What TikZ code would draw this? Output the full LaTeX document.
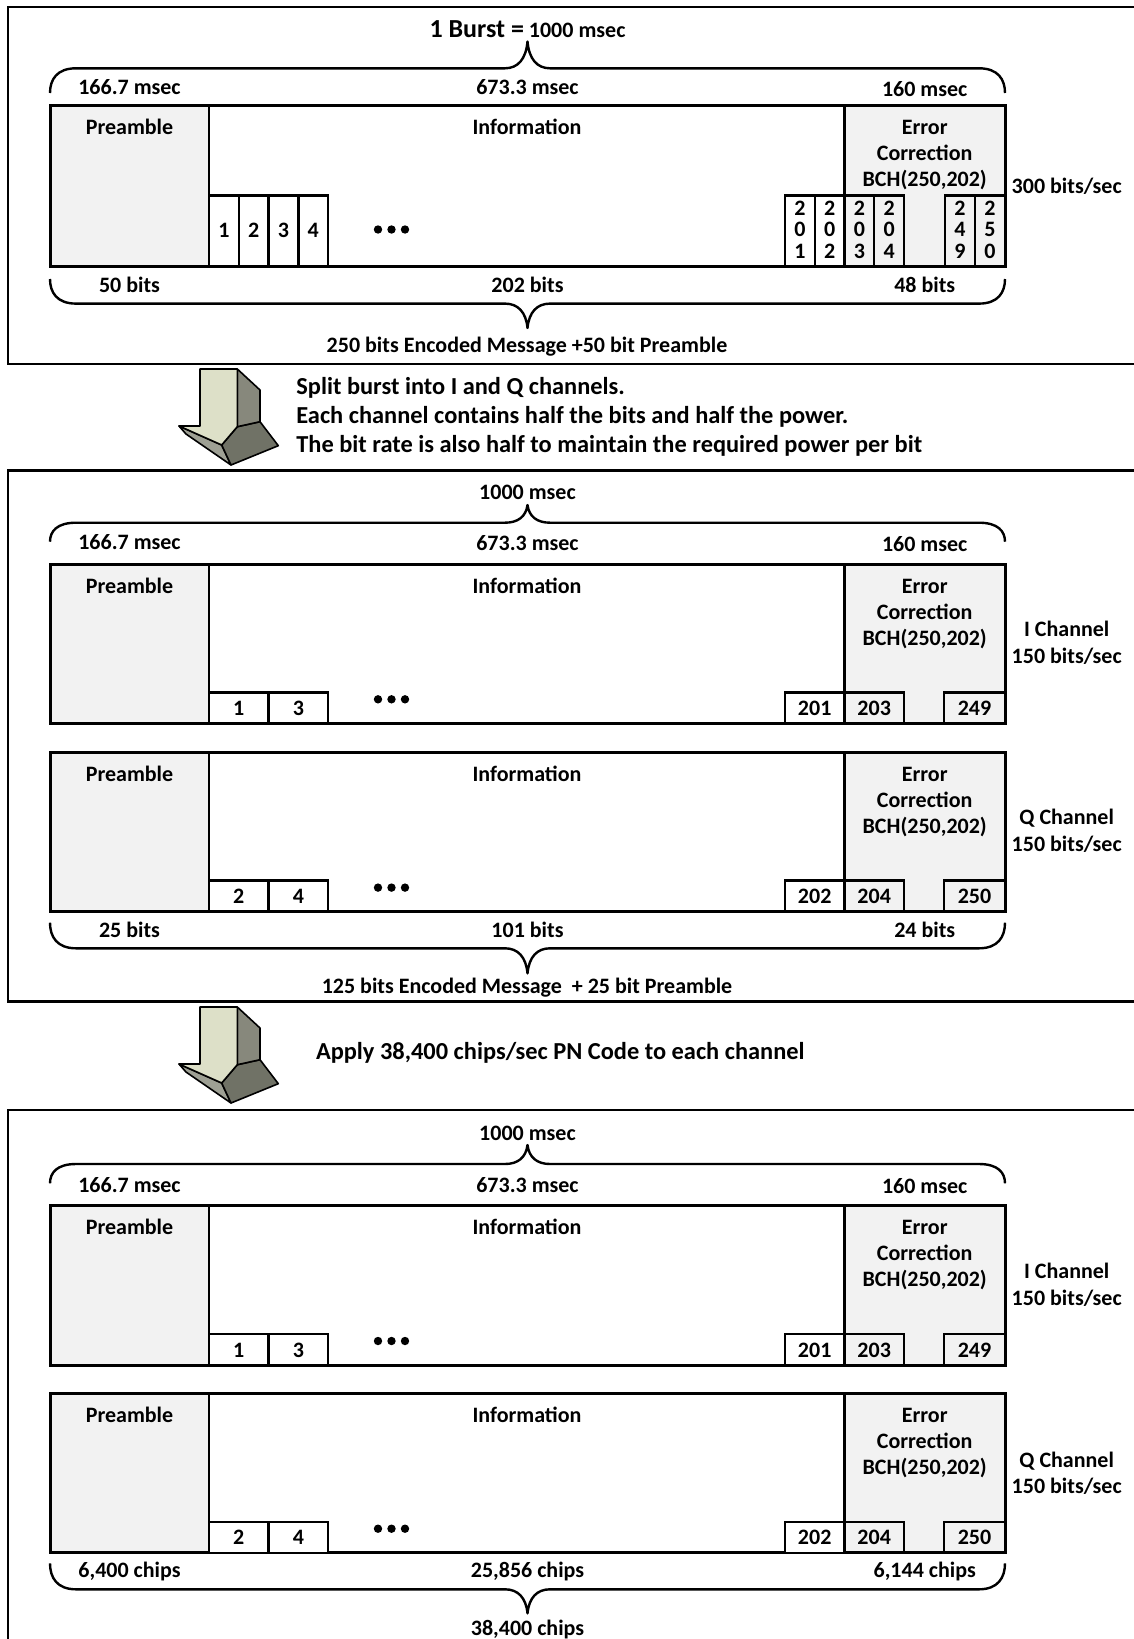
\documentclass[tikz,border=0pt]{standalone}
\usepackage{fontspec}
\setmainfont{Carlito}
\definecolor{panelgray}{RGB}{242,242,242}
\definecolor{arrfront}{RGB}{221,224,200}
\definecolor{arrside}{RGB}{135,136,124}
\definecolor{arrdark}{RGB}{112,114,102}
\definecolor{arrlow}{RGB}{158,160,148}
\tikzset{
  lbl/.style={font=\bfseries\fontsize{11}{13}\selectfont, inner sep=0pt, anchor=base},
  vlbl/.style={font=\bfseries\fontsize{11}{10.75}\selectfont, inner sep=0pt, align=center, anchor=center},
  arrtxt/.style={font=\bfseries\fontsize{12.2}{14}\selectfont, inner sep=0pt, anchor=base west},
  outerbox/.style={draw=black, line width=1.4pt},
  frameline/.style={draw=black, line width=1.5pt},
  divline/.style={draw=black, line width=1.1pt},
  bitbox/.style={draw=black, line width=1.2pt},
  bracel/.style={draw=black, line width=1.2pt, line join=round},
  arrline/.style={draw=black, line width=0.8pt, line join=round},
}
% brace: #1 line y, #2 end y, #3 tip y
\newcommand{\mybrace}[3]{%
  \draw[bracel] (50,#2) .. controls (50,{#1+0.45*(#2-#1)}) and (57,#1) .. (76,#1)
     -- (505,#1) .. controls (518,#1) and (526,{#1+0.35*(#3-#1)}) .. (527.5,#3)
     .. controls (529,{#1+0.35*(#3-#1)}) and (537,#1) .. (550,#1)
     -- (979,#1) .. controls (998,#1) and (1005,{#1+0.45*(#2-#1)}) .. (1005,#2);
}
% frame: #1 top, #2 bottom, #3 prefix
\newcommand{\chframe}[3]{%
  \fill[panelgray] (50,#1) rectangle (209,#2);
  \fill[panelgray] (844.5,#1) rectangle (1005,#2);
  \draw[divline] (209,#1) -- (209,#2) (844.5,#1) -- (844.5,#2);
  \draw[frameline] (50,#1) rectangle (1005,#2);
  \node[lbl] (#3pre) at (129.5,{#1+29}) {Preamble};
  \node[lbl] (#3info) at (527,{#1+29}) {Information};
  \node[lbl] (#3err) at (924.7,{#1+29}) {Error};
  \node[lbl] (#3cor) at (924.7,{#1+55}) {Correction};
  \node[lbl] (#3bch) at (924.7,{#1+81}) {BCH(250,202)};
}
% bit row for channel frames: #1 top, #2 bottom, #3..#7 numbers, #8 prefix
\newcommand{\bitrow}[8]{%
  \draw[bitbox, fill=white] (209,#1) rectangle (268.6,#2);
  \draw[bitbox, fill=white] (268.6,#1) rectangle (328.2,#2);
  \draw[bitbox, fill=white] (785,#1) rectangle (844.5,#2);
  \draw[bitbox] (844.5,#1) rectangle (904,#2);
  \draw[bitbox] (944,#1) rectangle (1005,#2);
  \node[lbl] (#8a) at (238.8,{#1+23}) {#3};
  \node[lbl] (#8b) at (298.4,{#1+23}) {#4};
  \node[lbl] (#8c) at (814.7,{#1+23}) {#5};
  \node[lbl] (#8d) at (874.2,{#1+23}) {#6};
  \node[lbl] (#8e) at (974.5,{#1+23}) {#7};
  \fill (378,{#1+7}) circle (4.2) (391.5,{#1+7}) circle (4.2) (405,{#1+7}) circle (4.2);
}
% 3D block arrow
\newcommand{\blockarrow}{%
  \filldraw[arrline, fill=arrlow] (179,426) -- (221.7,445) -- (231,465) -- (186,434) -- cycle;
  \filldraw[arrline, fill=arrdark] (237.3,426.7) -- (260,421.7) -- (278.3,445.7) -- (231,465) -- (221.7,445) -- cycle;
  \filldraw[arrline, fill=arrside] (237.3,369) -- (260,390) -- (260,421.7) -- (237.3,426.7) -- cycle;
  \filldraw[arrline, fill=arrfront] (200,369) -- (237.3,369) -- (237.3,426.7) -- (221.7,445) -- (179,426) -- (200,426) -- cycle;
}
\begin{document}
\begin{tikzpicture}[x=0.5pt,y=-0.5pt]
\useasboundingbox (0,0) rectangle (1134,1639);
\clip (0,0) rectangle (1134,1639);
\fill[white] (0,0) rectangle (1134,1639);

% ---------------- outer panels
\draw[outerbox] (8,7) rectangle (1150,364);
\draw[outerbox] (8,470.7) rectangle (1150,1001.7);
\draw[outerbox] (8,1110) rectangle (1150,1670);

% ---------------- panel 1
\node[lbl] (burst) at (527.5,37.3) {{\fontsize{13}{15}\selectfont 1 Burst =} 1000 msec};
\mybrace{68.3}{93}{41.5}
\node[lbl] (p1d1) at (129.5,94) {166.7 msec};
\node[lbl] (p1d2) at (527.5,94.3) {673.3 msec};
\node[lbl] (p1d3) at (924.7,96) {160 msec};
\chframe{105.5}{266.5}{p1}
\node[lbl] (p1rate) at (1066.7,193.7) {300 bits/sec};
\foreach \k/\t in {0/1,1/2,2/3,3/4}{
  \draw[bitbox, fill=white] ({209+29.8*\k},195.4) rectangle ({238.8+29.8*\k},266.5);
  \node[lbl] (p1bit\t) at ({223.9+29.8*\k},237) {\t};
}
\fill (378,229.5) circle (4.2) (391.5,229.5) circle (4.2) (405,229.5) circle (4.2);
\draw[bitbox, fill=white] (785,195.4) rectangle (814.75,266.5);
\draw[bitbox, fill=white] (814.75,195.4) rectangle (844.5,266.5);
\draw[bitbox] (844.5,195.4) rectangle (874.25,266.5);
\draw[bitbox] (874.25,195.4) rectangle (904,266.5);
\draw[bitbox] (945,195.4) rectangle (975,266.5);
\draw[bitbox] (975,195.4) rectangle (1005,266.5);
\node[vlbl] (p1v201) at (799.9,229.5) {2\\0\\1};
\node[vlbl] (p1v202) at (829.6,229.5) {2\\0\\2};
\node[vlbl] (p1v203) at (859.4,229.5) {2\\0\\3};
\node[vlbl] (p1v204) at (889.1,229.5) {2\\0\\4};
\node[vlbl] (p1v249) at (960,229.5) {2\\4\\9};
\node[vlbl] (p1v250) at (990,229.5) {2\\5\\0};
\node[lbl] (p1b1) at (129.5,292) {50 bits};
\node[lbl] (p1b2) at (527.5,292) {202 bits};
\node[lbl] (p1b3) at (924.7,292.5) {48 bits};
\mybrace{303.6}{279}{328}
\node[lbl] (p1sum) at (527,352) {250 bits Encoded Message +50 bit Preamble};

% ---------------- arrow 1
\blockarrow
\node[arrtxt] (t1a) at (296,394.7) {Split burst into I and Q channels.};
\node[arrtxt] (t1b) at (296,423.7) {Each channel contains half the bits and half the power.};
\node[arrtxt] (t1c) at (296,452.7) {The bit rate is also half to maintain the required power per bit};

% ---------------- panel 2
\node[lbl] (p2tot) at (527.5,499) {1000 msec};
\mybrace{522.7}{541.7}{505}
\node[lbl] (p2d1) at (129.5,549.7) {166.7 msec};
\node[lbl] (p2d2) at (527.5,550.5) {673.3 msec};
\node[lbl] (p2d3) at (924.7,551.5) {160 msec};
\chframe{564.4}{723.3}{p2i}
\bitrow{692.3}{723.3}{1}{3}{201}{203}{249}{p2ib}
\node[lbl] (p2ich) at (1066.7,636) {I Channel};
\node[lbl] (p2irate) at (1066.7,663) {150 bits/sec};
\chframe{752.6}{911.6}{p2q}
\bitrow{880.6}{911.6}{2}{4}{202}{204}{250}{p2qb}
\node[lbl] (p2qch) at (1066.7,824.3) {Q Channel};
\node[lbl] (p2qrate) at (1066.7,851.5) {150 bits/sec};
\node[lbl] (p2b1) at (129.5,937) {25 bits};
\node[lbl] (p2b2) at (527.5,937) {101 bits};
\node[lbl] (p2b3) at (924.7,937) {24 bits};
\mybrace{948.3}{922.7}{973.3}
\node[lbl] (p2sum) at (527,993.7) {125 bits Encoded Message\ \ + 25 bit Preamble};

% ---------------- arrow 2
\begin{scope}[shift={(0,638)}]
\blockarrow
\end{scope}
\node[arrtxt] (t2a) at (315.6,1059.4) {Apply 38,400 chips/sec PN Code to each channel};

% ---------------- panel 3
\node[lbl] (p3tot) at (527.5,1140.3) {1000 msec};
\mybrace{1164}{1183.3}{1145}
\node[lbl] (p3d1) at (129.5,1192) {166.7 msec};
\node[lbl] (p3d2) at (527.5,1192.5) {673.3 msec};
\node[lbl] (p3d3) at (924.7,1193.5) {160 msec};
\chframe{1205.7}{1365}{p3i}
\bitrow{1334}{1365}{1}{3}{201}{203}{249}{p3ib}
\node[lbl] (p3ich) at (1066.7,1278.7) {I Channel};
\node[lbl] (p3irate) at (1066.7,1305.3) {150 bits/sec};
\chframe{1393.3}{1552.7}{p3q}
\bitrow{1521.7}{1552.7}{2}{4}{202}{204}{250}{p3qb}
\node[lbl] (p3qch) at (1066.7,1467) {Q Channel};
\node[lbl] (p3qrate) at (1066.7,1493.7) {150 bits/sec};
\node[lbl] (p3b1) at (129.5,1577) {6,400 chips};
\node[lbl] (p3b2) at (527.5,1577) {25,856 chips};
\node[lbl] (p3b3) at (924.7,1577) {6,144 chips};
\mybrace{1589.3}{1563.3}{1613.3}
\node[lbl] (p3sum) at (527.5,1635.3) {38,400 chips};
\end{tikzpicture}
\end{document}
